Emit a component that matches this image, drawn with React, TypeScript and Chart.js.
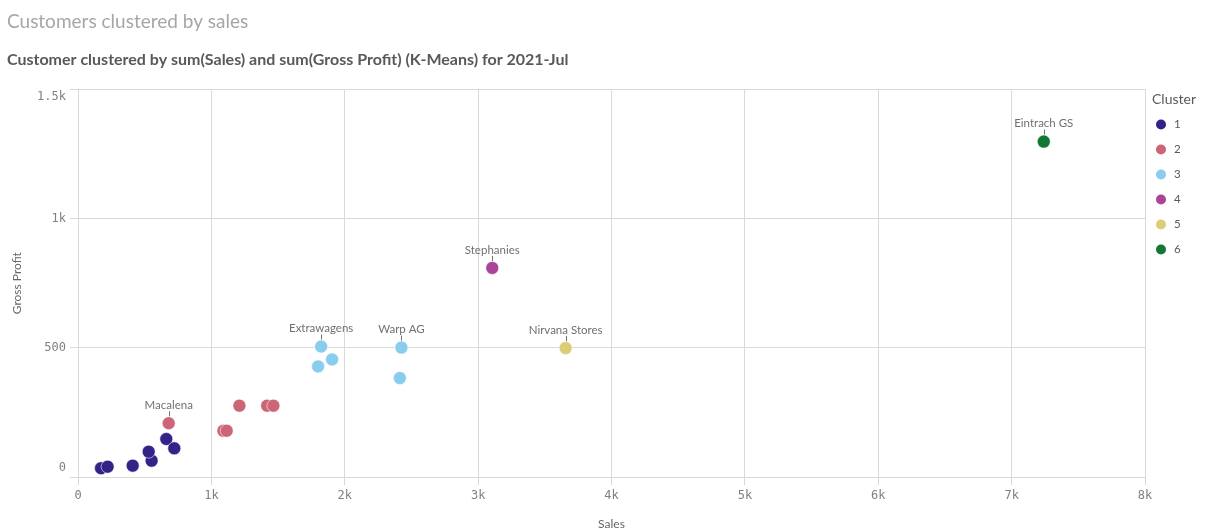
import React, { useEffect, useRef } from 'react';
import { Chart, registerables } from 'chart.js';

Chart.register(...registerables);

// ---- Data ----
const customerNames = ['', '', '', '', '', '', '', 'Macalena', '', '', '', '', '', 'Extrawagens', '', '', 'Warp AG', '', 'Stephanies', 'Nirvana Stores', 'Eintrach GS'];
const sales = [173, 222, 410, 552, 530, 662, 722, 680, 1210, 1418, 1465, 1090, 1115, 1823, 1905, 1800, 2425, 2413, 3106, 3656, 7241];
const grossProfit = [34, 40, 44, 63, 98, 147, 111, 208, 276, 276, 276, 179, 179, 505, 455, 428, 501, 383, 809, 499, 1298];
const clusterOfCustomer = [1, 1, 1, 1, 1, 1, 1, 2, 2, 2, 2, 2, 2, 3, 3, 3, 3, 3, 4, 5, 6];
const clusterLabels = ['1', '2', '3', '4', '5', '6'];
const clusterColors = ['#332288', '#CC6677', '#88CCEE', '#AA4499', '#DDCC77', '#117733'];
const salesTicks = [0, 1000, 2000, 3000, 4000, 5000, 6000, 7000, 8000];
const profitTicks = [0, 500, 1000, 1500];

const chartTitle = 'Customers clustered by sales';
const chartSubtitle = 'Customer clustered by sum(Sales) and sum(Gross Profit) (K-Means) for 2021-Jul';
const legendTitle = 'Cluster';

const fmtK = (v: number) => (v === 0 ? '0' : v >= 1000 ? `${v / 1000}k` : `${v}`);

const TEXT_FONT = 'Lato, "Open Sans", sans-serif';
const TICK_FONT = '"DejaVu Sans Mono", monospace';

const labelsPlugin = {
  id: 'pointLabels',
  beforeDraw(chart: any) {
    const ys = chart.scales.y;
    if (ys && ys.getLabelItems) {
      const items = ys.getLabelItems();
      items.forEach((it: any) => {
        if (it._shifted) return;
        it._shifted = true;
        if (it.label === '0') it.options.translation[1] -= 9;
        if (it.label === '1.5k') it.options.translation[1] += 7;
      });
    }
  },
  afterDatasetsDraw(chart: any) {
    const ctx = chart.ctx;
    ctx.save();
    ctx.font = `11.5px ${TEXT_FONT}`;
    ctx.fillStyle = '#707070';
    ctx.strokeStyle = '#707070';
    ctx.lineWidth = 1;
    ctx.textAlign = 'center';
    ctx.textBaseline = 'middle';
    chart.data.datasets.forEach((ds: any, di: number) => {
      const meta = chart.getDatasetMeta(di);
      meta.data.forEach((el: any, i: number) => {
        const name = ds.names[i];
        if (!name) return;
        const x = Math.round(el.x) + 0.5;
        ctx.beginPath();
        ctx.moveTo(x, el.y - 12);
        ctx.lineTo(x, el.y - 7);
        ctx.stroke();
        ctx.fillText(name, el.x, el.y - 18);
      });
    });
    ctx.restore();
  },
  afterDraw(chart: any) {
    const ctx = chart.ctx;
    ctx.save();
    ctx.textAlign = 'left';
    ctx.textBaseline = 'middle';
    ctx.fillStyle = '#595959';
    ctx.font = `14px ${TEXT_FONT}`;
    ctx.fillText(legendTitle, 1152, 99);
    clusterLabels.forEach((lab, i) => {
      const y = 124.5 + i * 25;
      ctx.beginPath();
      ctx.arc(1161, y, 5, 0, Math.PI * 2);
      ctx.fillStyle = clusterColors[i];
      ctx.fill();
      ctx.fillStyle = '#595959';
      ctx.font = `11.5px ${TEXT_FONT}`;
      ctx.fillText(lab, 1174, y);
    });
    ctx.restore();
  },
};

export default function App() {
  const ref = useRef<HTMLCanvasElement | null>(null);

  useEffect(() => {
    if (!ref.current) return;
    const datasets = clusterLabels.map((lab, ci) => {
      const idx = clusterOfCustomer.map((c, i) => (c === ci + 1 ? i : -1)).filter((i) => i >= 0);
      return {
        label: lab,
        data: idx.map((i) => ({ x: sales[i], y: grossProfit[i] })),
        names: idx.map((i) => customerNames[i]),
        backgroundColor: clusterColors[ci],
        borderColor: 'rgba(255,255,255,0.55)',
        borderWidth: 1,
        pointRadius: 6.5,
        pointHoverRadius: 6.5,
      };
    });

    const chart = new Chart(ref.current, {
      type: 'scatter',
      data: { datasets } as any,
      options: {
        animation: false,
        responsive: false,
        maintainAspectRatio: false,
        layout: { padding: { left: 7, right: 67, top: 0, bottom: 0 } },
        plugins: {
          legend: { display: false },
          tooltip: { enabled: false },
          title: {
            display: true,
            text: chartTitle,
            align: 'start',
            color: '#a6a6a6',
            font: { family: TEXT_FONT, size: 19, weight: 'normal' },
            padding: { top: 10.6, bottom: 0 },
          },
          subtitle: {
            display: true,
            text: chartSubtitle,
            align: 'start',
            color: '#595959',
            font: { family: TEXT_FONT, size: 16, weight: 'bold' },
            padding: { top: 16.4, bottom: 20.4 },
          },
        },
        scales: {
          x: {
            type: 'linear',
            min: 0,
            max: 8000,
            afterBuildTicks: (s: any) => {
              s.ticks = salesTicks.map((v) => ({ value: v }));
            },
            afterFit: (s: any) => {
              s.height = 54;
            },
            ticks: {
              callback: (v: any) => fmtK(Number(v)),
              color: '#808080',
              font: { family: TICK_FONT, size: 12 },
              padding: 4,
              maxRotation: 0,
            },
            grid: { color: '#d9d9d9', tickColor: '#d9d9d9', tickLength: 8, drawTicks: true },
            border: { color: '#d9d9d9' },
            title: {
              display: true,
              text: 'Sales',
              color: '#666666',
              font: { family: TEXT_FONT, size: 12 },
              padding: { top: 13, bottom: 0 },
            },
          },
          y: {
            type: 'linear',
            min: 0,
            max: 1500,
            afterBuildTicks: (s: any) => {
              s.ticks = profitTicks.map((v) => ({ value: v }));
            },
            afterFit: (s: any) => {
              s.width = 71;
            },
            ticks: {
              callback: (v: any) => fmtK(Number(v)),
              color: '#808080',
              font: { family: TICK_FONT, size: 12 },
              padding: 4,
            },
            grid: { color: '#d9d9d9', tickColor: '#d9d9d9', tickLength: 8, drawTicks: true },
            border: { color: '#d9d9d9' },
            title: {
              display: true,
              text: 'Gross Profit',
              color: '#666666',
              font: { family: TEXT_FONT, size: 12 },
              padding: { top: 3, bottom: 0 },
            },
          },
        },
      } as any,
      plugins: [labelsPlugin],
    });
    return () => chart.destroy();
  }, []);

  return (
    <div style={{ position: 'fixed', left: 0, top: 0, width: 1212, height: 531, background: '#fff' }}>
      <canvas ref={ref} width={1212} height={531} style={{ width: 1212, height: 531 }} />
    </div>
  );
}
